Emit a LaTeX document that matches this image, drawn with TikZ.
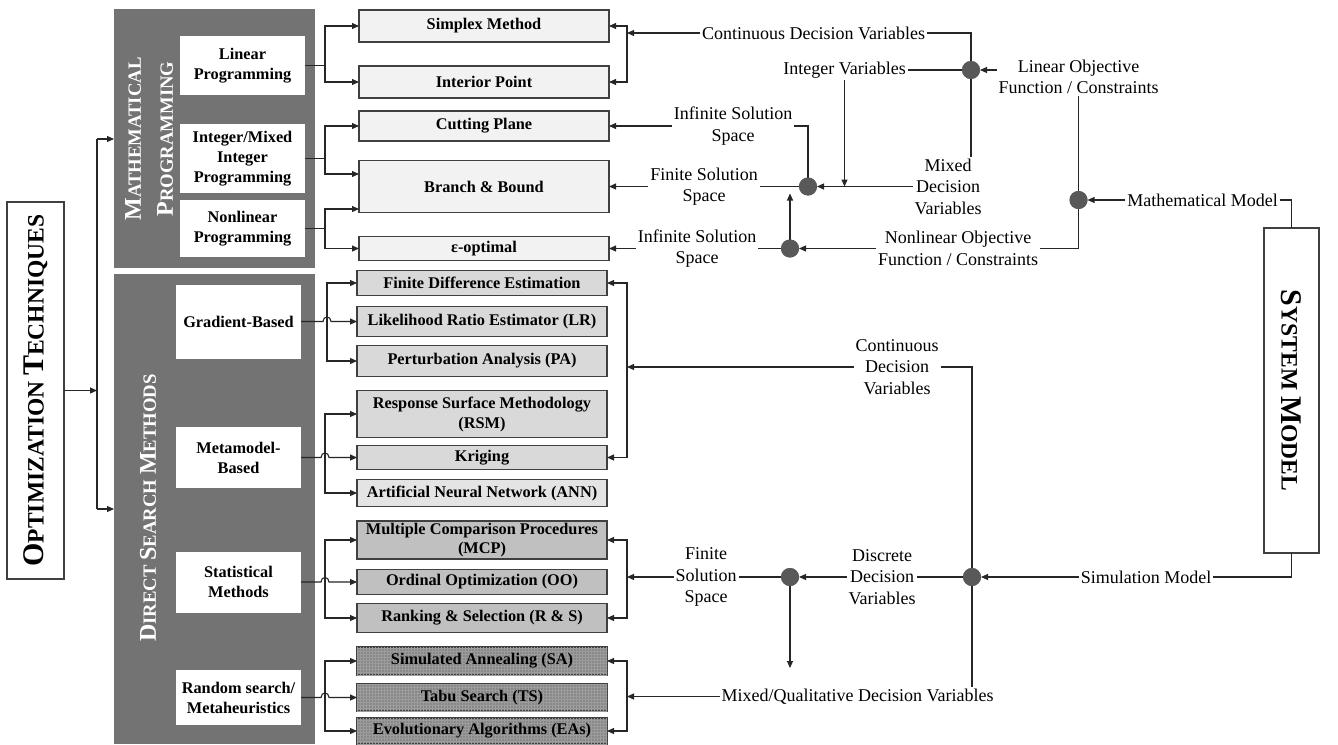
\documentclass[tikz,border=0pt]{standalone}
\usepackage{fontspec}
\setmainfont{Liberation Serif}
\usetikzlibrary{arrows.meta,patterns,calc}
\definecolor{panel}{HTML}{737373}
\definecolor{dotc}{HTML}{595959}
\definecolor{topfill}{HTML}{F2F2F2}
\definecolor{gfill}{HTML}{D9D9D9}
\definecolor{annfill}{HTML}{E4E4E4}
\definecolor{sfill}{HTML}{C0C0C0}
\definecolor{rfill}{HTML}{888888}
\definecolor{rgrid}{HTML}{9C9C9C}
\definecolor{edge}{HTML}{404040}
\newcommand\lblfont{\fontsize{18}{21.5}\selectfont}
\newcommand\boxfont{\fontsize{16.3}{20}\selectfont\bfseries}
\newcommand\tbig{\fontsize{30}{36}\selectfont}
\newcommand\tsml{\fontsize{23.5}{36}\selectfont}
\newcommand\pbig{\fontsize{24}{28}\selectfont}
\newcommand\psml{\fontsize{18.7}{28}\selectfont}
\begin{document}
\begin{tikzpicture}[x=1pt,y=-1pt,
 every node/.style={inner sep=0pt, outer sep=0pt},
 pbox/.style={draw=edge, line width=1.2pt, align=center, font=\boxfont, minimum width=250pt},
 rbox/.style={pbox, fill=rfill, postaction={pattern=grid, pattern color=rgrid}},
 wbox/.style={fill=white, align=center, font=\boxfont, minimum width=125pt},
 lbl/.style={font=\lblfont, align=center, inner sep=2pt},
 con/.style={draw=black!85, line width=1.1pt},
 arr/.style={con, -{Triangle[length=7pt,width=6pt]}},
 arrb/.style={con, {Triangle[length=7pt,width=6pt]}-{Triangle[length=7pt,width=6pt]}},
 jdot/.style={circle, fill=dotc, minimum size=18pt},
]
\useasboundingbox[fill=white] (0,0) rectangle (1338,744);

% left title box
\node[draw=edge, line width=1.2pt, minimum width=57pt, minimum height=377pt] (opt) at (35.5,390.5) {};
\node[rotate=90, font=\bfseries] at (opt.center) {\tbig O\tsml PTIMIZATION \tbig T\tsml ECHNIQUES};

% panels
\node[fill=panel, minimum width=201pt, minimum height=259pt] (mp) at (214.5,138.5) {};
\node[fill=panel, minimum width=201pt, minimum height=470pt] (ds) at (214.5,509) {};
\node[rotate=90, text=white, font=\bfseries\pbig, align=center] at (149,139) {\pbig M\psml ATHEMATICAL\\[4pt]\pbig P\psml ROGRAMMING};
\node[rotate=90, text=white, font=\bfseries] at (148,508) {\pbig D\psml IRECT \pbig S\psml EARCH \pbig M\psml ETHODS};

\coordinate (vt) at (97,139);
\coordinate (vb) at (97,509);
\draw[arr] (opt.east) -- (opt.east -| vt);
\draw[con] (vt) -- (vb);
\draw[arr] (vt) -- (vt -| mp.west);
\draw[arr] (vb) -- (vb -| ds.west);

% white boxes
\node[wbox, minimum height=59pt] (lp) at (242.5,65.5) {Linear\\Programming};
\node[wbox, minimum height=69pt] (imip) at (242.5,158.5) {Integer/Mixed\\Integer\\Programming};
\node[wbox, minimum height=57pt] (nlp) at (242.5,228.5) {Nonlinear\\Programming};
\node[wbox, minimum height=74pt] (gb) at (238.5,321.5) {Gradient-Based};
\node[wbox, minimum height=61pt] (mb) at (238.5,457.5) {Metamodel-\\Based};
\node[wbox, minimum height=61pt] (sm) at (238.5,582) {Statistical\\Methods};
\node[wbox, minimum height=55pt] (rm) at (238.5,697.5) {Random search/\\Metaheuristics};

% method boxes (top)
\node[pbox, fill=topfill, minimum height=32pt] (simplex) at (484,26) {Simplex Method};
\node[pbox, fill=topfill, minimum height=32pt] (interior) at (484,82) {Interior Point};
\node[pbox, fill=topfill, minimum height=30pt] (cutting) at (484,126) {Cutting Plane};
\node[pbox, fill=topfill, minimum height=52pt] (bb) at (484,186.5) {Branch \& Bound};
\node[pbox, fill=topfill, minimum height=24pt] (eps) at (484,248.5) {ε-optimal};
% method boxes (bottom)
\node[pbox, fill=gfill, minimum height=25pt] (fde) at (482,283) {Finite Difference Estimation};
\node[pbox, fill=gfill, minimum height=30pt] (lr) at (482,321.5) {Likelihood Ratio Estimator (LR)};
\node[pbox, fill=gfill, minimum height=31pt] (pa) at (482,361) {Perturbation Analysis (PA)};
\node[pbox, fill=gfill, minimum height=47pt] (rsm) at (482,414) {Response Surface Methodology\\(RSM)};
\node[pbox, fill=gfill, minimum height=24pt] (krig) at (482,457.5) {Kriging};
\node[pbox, fill=annfill, minimum height=27pt] (ann) at (482,493) {Artificial Neural Network (ANN)};
\node[pbox, fill=sfill, minimum height=38pt] (mcp) at (482,540) {Multiple Comparison Procedures\\[-1pt](MCP)};
\node[pbox, fill=sfill, minimum height=25pt] (oo) at (482,582) {Ordinal Optimization (OO)};
\node[pbox, fill=sfill, minimum height=29pt] (rs) at (482,618) {Ranking \& Selection (R \& S)};
\node[rbox, minimum height=28pt] (sa) at (482,661) {Simulated Annealing (SA)};
\node[rbox, minimum height=27pt] (ts) at (482,697.5) {Tabu Search (TS)};
\node[rbox, minimum height=26pt] (ea) at (482,731) {Evolutionary Algorithms (EAs)};

% connectors white boxes -> methods
\draw[con] (lp.east) -- ++(20,0) coordinate (lpb);
\draw[arr] (lpb) |- (simplex.west);
\draw[arr] (lpb) |- (interior.west);
\draw[con] (imip.east) -- ++(20,0) coordinate (imb);
\draw[arr] (imb) |- (cutting.west);
\draw[arr] (imb) |- ([yshift=12.5pt]bb.west);
\draw[con] (nlp.east) -- ++(20,0) coordinate (nlb);
\draw[arr] (nlb) |- ([yshift=-22.5pt]bb.west);
\draw[arr] (nlb) |- (eps.west);

% with hops
\coordinate (g1) at (327,321.5);
\draw[arr] (g1) |- (fde.west);
\draw[arr] (g1) |- (pa.west);
\draw[arr] (gb.east) -- (323,321.5) .. controls (323,315.5) and (331,315.5) .. (331,321.5) -- (lr.west);
\coordinate (g2) at (325,457.5);
\draw[arr] (g2) |- (rsm.west);
\draw[arr] (g2) |- (ann.west);
\draw[arr] (mb.east) -- (321,457.5) .. controls (321,451.5) and (329,451.5) .. (329,457.5) -- (krig.west);
\coordinate (g3) at (325,582);
\draw[arr] (g3) |- (mcp.west);
\draw[arr] (g3) |- (rs.west);
\draw[arr] (sm.east) -- (321,582) .. controls (321,576) and (329,576) .. (329,582) -- (oo.west);
\coordinate (g4) at (325,697.5);
\draw[arr] (g4) |- (sa.west);
\draw[arr] (g4) |- (ea.west);
\draw[arr] (rm.east) -- (321,697.5) .. controls (321,691.5) and (329,691.5) .. (329,697.5) -- (ts.west);

% system model box
\node[draw=edge, line width=1.2pt, minimum width=55pt, minimum height=325pt] (sys) at (1291.5,390.5) {};
\node[rotate=-90, font=\bfseries] at (sys.center) {\tbig S\tsml YSTEM \tbig M\tsml ODEL};

% right network labels
\node[lbl] (cdv1) at (813.5,33) {Continuous Decision Variables};
\node[lbl] (intv) at (844.5,70) {Integer Variables};
\node[lbl] (mixd) at (948,186.5) {Mixed\\Decision\\Variables};
\node[lbl] (lin) at (1078.5,77) {Linear Objective\\Function / Constraints};
\node[lbl] (mm) at (1202.5,200) {Mathematical Model};
\node[lbl] (nlin) at (958,248.5) {Nonlinear Objective\\Function / Constraints};
\node[lbl] (inf1) at (733,126) {Infinite Solution\\Space};
\node[lbl] (fin1) at (704,186.5) {Finite Solution\\Space};
\node[lbl] (inf2) at (697,248.5) {Infinite Solution\\Space};
\node[lbl] (cdv2) at (897,367) {Continuous\\Decision\\Variables};
\node[lbl] (simm) at (1146,577) {Simulation Model};
\node[lbl] (disc) at (882,577) {Discrete\\Decision\\Variables};
\node[lbl] (fin2) at (706,577) {Finite\\Solution\\Space};
\node[lbl] (mq) at (857.5,696.5) {Mixed/Qualitative Decision Variables};

\node[jdot] (j1) at (808,186.5) {};
\node[jdot] (j2) at (971,70) {};
\node[jdot] (j3) at (1078.5,200) {};
\node[jdot] (j4) at (790,248.5) {};
\node[jdot] (j5) at (972,577) {};
\node[jdot] (j6) at (790,577) {};

\coordinate (b1) at (627,33);
\coordinate (b2) at (627,367);
\coordinate (b3) at (627,577);
\coordinate (b4) at (627,696.5);

% top network
\draw[arr] (cdv1.west) -- (b1);
\draw[arrb] (simplex.east) -| (b1) |- (interior.east);
\draw[con] (cdv1.east) -- (cdv1.east -| j2) -- (j2 |- mixd.north);
\draw[con] (intv.east) -- (j2);
\draw[arr] (lin.west |- j2) -- (j2);
\draw[arr] (intv.south) -- (intv.south |- j1);
\draw[arr] (mixd.west) -- (j1);
\draw[con] (j1.center) |- (inf1.east);
\draw[arr] (inf1.west) -- (cutting.east);
\draw[con] (j1) -- (fin1.east);
\draw[arr] (fin1.west) -- (bb.east);
\draw[con] (lin.south) -- (j3);
\draw[con] (j3.center) |- (nlin.east);
\draw[arr] (mm.west) -- (j3);
\draw[con] (mm.east) -| (sys.north);
\draw[arr] (nlin.west) -- (j4);
\draw[arr] (j4) -- ++(0,-55);
\draw[con] (j4) -- (inf2.east);
\draw[arr] (inf2.west) -- (eps.east);

% bottom network
\draw[con] (cdv2.east) -| (j5.center) -- (j5 |- mq.north);
\draw[arr] (cdv2.west) -- (b2);
\draw[arrb] (fde.east) -| (b2) |- (krig.east);
\draw[arr] (simm.west) -- (j5);
\draw[con] (simm.east) -| (sys.south);
\draw[con] (j5) -- (disc.east);
\draw[arr] (disc.west) -- (j6);
\draw[con] (j6) -- (fin2.east);
\draw[arr] (fin2.west) -- (b3);
\draw[arrb] (mcp.east) -| (b3) |- (rs.east);
\draw[arr] (j6) -- ++(0,91);
\draw[arr] (mq.west) -- (b4);
\draw[arrb] (sa.east) -| (b4) |- (ea.east);

% dots on top
\foreach \j in {j1,j2,j3,j4,j5,j6} \fill[dotc] (\j) circle (9pt);
\end{tikzpicture}
\end{document}
